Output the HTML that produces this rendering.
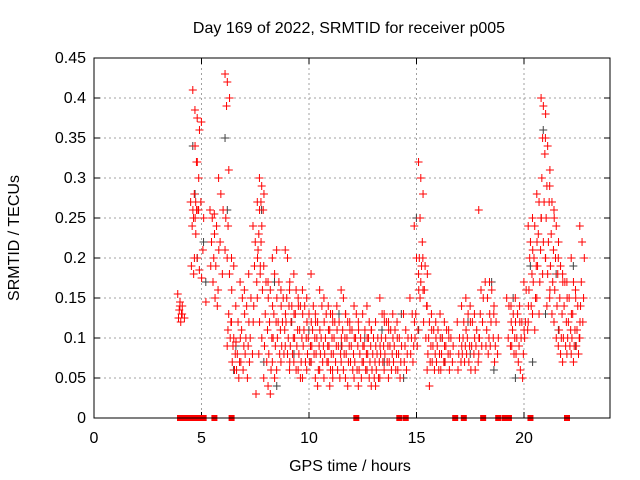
<!DOCTYPE html>
<html><head><meta charset="utf-8">
<style>
body{margin:0;background:#fff;}
svg{display:block;font-family:"Liberation Sans",sans-serif;}
</style></head>
<body>
<svg id="chart" width="640" height="480">
<text x="349" y="33" font-size="16" text-anchor="middle">Day 169 of 2022, SRMTID for receiver p005</text>
<text x="350" y="471" font-size="16" text-anchor="middle">GPS time / hours</text>
<text transform="translate(19,238) rotate(-90)" font-size="16" text-anchor="middle">SRMTID / TECUs</text>
<g id="grid"></g>
<g id="ticks"></g>
<g id="black"></g>
<g id="red"></g>
<rect x="94" y="58" width="516" height="360" fill="none" stroke="#000" stroke-width="1"/>
</svg>
<script>
const xTicks=[0,5,10,15,20];
const yTicks=[0,0.05,0.1,0.15,0.2,0.25,0.3,0.35,0.4,0.45];
const yTickLabels=["0","0.05","0.1","0.15","0.2","0.25","0.3","0.35","0.4","0.45"];
const redTimes=[4.0,4.1,4.6,4.7,4.8,4.9,5.1,5.5,5.7,5.9,6.2,6.3,6.5,6.7,6.9,7.1,7.3,7.5,7.7,7.8,8.0,8.2,8.4,8.6,8.8,9.0,9.2,9.4,9.6,9.8,10.0,10.2,10.4,10.6,10.8,11.0,11.2,11.4,11.6,11.8,12.0,12.2,12.4,12.6,12.8,13.0,13.2,13.4,13.6,13.8,14.0,14.2,14.5,14.8,15.0,15.2,15.4,15.6,15.8,16.0,16.2,16.4,16.6,17.0,17.2,17.4,17.6,17.8,18.0,18.3,18.5,18.7,19.3,19.5,19.7,19.9,20.1,20.3,20.5,20.7,20.9,21.1,21.3,21.5,21.7,21.9,22.1,22.3,22.5,22.7];
const redValues=[
[.155,.145,.14,.135,.13,.125,.12],[.14,.13,.125],[.27,.26,.25,.24,.2,.19,.18],[.41,.34,.32,.28,.26,.25,.23],[.385,.375,.36,.32,.3,.27,.26],[.2,.185,.175,.26,.27],[.37,.25,.145,.21],
[.26,.25,.23,.22,.2,.19,.17],[.255,.24,.21,.19,.16,.15,.14],[.3,.28,.26,.22,.18],[.43,.42,.4,.39,.31,.25,.24,.21],[.2,.18,.16,.13,.12,.11,.1,.09],
[.12,.1,.095,.09,.08,.07,.06,.2,.19],[.14,.12,.1,.08,.07,.06,.05],[.17,.15,.13,.11,.09,.07,.06],[.16,.14,.12,.1,.09,.08,.05],[.18,.15,.12,.1,.08,.07],
[.24,.22,.2,.19,.17,.14,.03],[.27,.26,.24,.23,.22,.21,.19,.15,.12,.1,.08],[.3,.29,.28,.27,.26,.18,.16],[.19,.17,.15,.13,.11,.09,.07,.05],[.17,.16,.14,.12,.1,.08,.06,.04,.03],
[.2,.18,.15,.13,.12,.1,.09,.07,.05],[.21,.17,.14,.12,.11,.1,.08,.06],[.16,.15,.13,.12,.11,.09,.08,.07],[.21,.2,.17,.15,.14,.12,.1,.09,.08,.07],[.16,.14,.13,.12,.1,.09,.08,.06],
[.18,.16,.14,.13,.11,.1,.09,.07,.06],[.15,.14,.13,.11,.1,.08,.07,.06,.05],[.16,.14,.12,.11,.1,.09,.07,.05],[.15,.13,.12,.1,.09,.08,.07,.06],[.18,.14,.12,.11,.1,.09,.08,.07],
[.13,.12,.11,.1,.09,.08,.06,.05,.04],[.16,.14,.12,.1,.09,.08,.07,.06],[.15,.13,.11,.1,.09,.08,.07,.05],[.14,.13,.12,.11,.1,.09,.08,.07,.06,.05,.04],[.13,.12,.11,.1,.09,.08,.07,.06],
[.14,.12,.1,.09,.08,.06,.05],[.16,.15,.13,.11,.1,.09,.08,.07,.06],[.13,.12,.11,.1,.09,.08,.07,.05,.04],[.12,.11,.1,.09,.08,.07,.06],[.14,.13,.11,.1,.09,.07,.06,.05],
[.12,.1,.09,.08,.07,.06,.05,.04],[.13,.11,.1,.09,.08,.07,.06],[.14,.12,.11,.1,.09,.08,.07,.06,.05],[.11,.1,.09,.08,.07,.06,.05,.04],[.12,.1,.09,.08,.07,.06,.05,.04],
[.15,.13,.12,.1,.09,.08,.07,.05],[.13,.12,.11,.1,.09,.08,.07,.06],[.12,.11,.1,.09,.08,.07,.06,.05],[.13,.11,.1,.09,.08,.07,.06],[.12,.1,.09,.08,.07,.06,.05],
[.13,.11,.1,.09,.08,.07,.06],[.15,.13,.12,.1,.09,.08,.07],[.24,.2,.16,.13,.11,.1,.09],[.32,.3,.28,.25,.22,.2,.19,.18,.17,.16,.15],[.2,.19,.18,.16,.14,.12,.1],
[.14,.12,.11,.1,.09,.08,.07,.06,.04],[.13,.11,.1,.09,.08,.07,.06],[.12,.11,.1,.09,.08,.07,.06],[.13,.1,.09,.08,.07,.06],[.12,.11,.1,.09,.08,.07],[.11,.1,.09,.08,.07,.06],
[.12,.1,.09,.08,.07,.06],[.14,.12,.11,.1,.09,.08,.07],[.15,.13,.12,.1,.09,.08,.07],[.14,.12,.1,.09,.08,.06],[.13,.11,.1,.09,.07,.06],[.26,.16,.15,.13,.12,.1,.09,.08],
[.17,.15,.13,.11,.1,.09,.08],[.17,.16,.14,.12,.1,.09],[.13,.12,.1,.09,.08,.07],[.15,.14,.12,.1,.09],[.14,.13,.12,.11,.1,.09,.08],[.15,.13,.12,.1,.09,.08,.07],
[.14,.12,.11,.1,.08,.06,.05],[.17,.16,.14,.12,.11,.1],[.24,.22,.21,.2,.18,.16,.14,.12],[.25,.24,.22,.2,.19,.17,.15,.13,.11],[.28,.27,.25,.23,.21,.19,.17,.15,.13],
[.4,.39,.38,.35,.33,.3,.27,.25,.22,.2,.18],[.35,.34,.31,.29,.27,.25,.22,.2,.18,.16,.14],[.29,.27,.25,.23,.21,.19,.17,.15,.13],[.26,.24,.22,.2,.18,.16,.14,.12,.1],
[.2,.19,.17,.15,.13,.11,.1,.09,.08],[.18,.17,.15,.14,.12,.1,.09,.07],[.17,.15,.13,.12,.11,.1,.09,.08],[.2,.17,.15,.13,.11,.1,.09,.08,.07],[.16,.14,.12,.11,.1,.09,.08],[.24,.22,.2,.17,.15,.14,.12,.1]];
const blackTimes=[4.7,5.2,6.2,6.6,7.9,8.5,9.3,10.1,11.5,12.7,13.5,14.4,15.1,16.3,17.5,18.6,19.6,20.4,21.0,21.6,22.4];
const blackValues=[[.34,.28,.2],[.22,.17],[.35,.26],[.06,.09],[.26,.07],[.17,.04],[.12,.08],[.11,.07],[.13,.09],[.1,.06],[.11,.07],[.13,.05],[.25,.11],[.1,.07],[.12,.08],[.17,.06],[.15,.05],[.19,.07],[.36,.13],[.18,.11],[.19,.09]];
const zeroTimes=[4.0,4.2,4.4,4.5,4.6,4.8,5.0,5.1,5.6,6.4,12.2,14.2,14.5,16.8,17.2,18.1,18.8,19.1,19.3,20.3,22.0];

const X0=94,X1=610,Y0=418,Y1=58,XMAX=24,YMAX=0.45;
const NS="http://www.w3.org/2000/svg";
function sx(t){return X0+(t/XMAX)*(X1-X0);}
function sy(v){return Y0-(v/YMAX)*(Y0-Y1);}
function mk(tag,attrs){const e=document.createElementNS(NS,tag);for(const k in attrs)e.setAttribute(k,attrs[k]);return e;}
const grid=document.getElementById('grid'),ticks=document.getElementById('ticks');
yTicks.forEach((v,i)=>{
  const y=sy(v);
  if(v>0&&v<YMAX){const g=mk('line',{x1:X0,x2:X1,y1:y,y2:y,stroke:'#a0a0a0','stroke-dasharray':'2,3'});
  
  
  grid.appendChild(g);}
  const tk=mk('path',{d:`M${X0},${y}h6M${X1},${y}h-6`,stroke:'#000'});
  
  
  ticks.appendChild(tk);
  const tx=mk('text',{x:X0-8,y:y+5,'font-size':16,'text-anchor':'end'});
  tx.textContent=yTickLabels[i];
  
  
  ticks.appendChild(tx);
});
xTicks.forEach(t=>{
  const x=sx(t);
  if(t>0){const g=mk('line',{x1:x,x2:x,y1:Y1,y2:Y0,stroke:'#a0a0a0','stroke-dasharray':'2,3'});
  
  
  grid.appendChild(g);}
  const tk=mk('path',{d:`M${x},${Y0}v-6M${x},${Y1}v6`,stroke:'#000'});
  
  
  ticks.appendChild(tk);
  const tx=mk('text',{x:x,y:Y0+25,'font-size':16,'text-anchor':'middle'});
  tx.textContent=String(t);
  
  
  ticks.appendChild(tx);
});
function plus(g,t,v,col){
  const x=sx(t),y=sy(v);
  const p=mk('path',{d:`M${x-4},${y}h8M${x},${y-4}v8`,stroke:col,'stroke-width':1});
  
  
  g.appendChild(p);
}
function drawClusters(g,times,vals,col){
  times.forEach((t,ci)=>{
    vals[ci].forEach((v,i)=>{
      const off=((i*3%7)-3)*0.035;
      plus(g,t+off,v,col);
    });
  });
}
drawClusters(document.getElementById('black'),blackTimes,blackValues,'#404040');
const red=document.getElementById('red');
drawClusters(red,redTimes,redValues,'#ff0000');
zeroTimes.forEach(t=>{
  const r=mk('rect',{x:sx(t)-3,y:Y0-3,width:6,height:6,fill:'#ff0000'});
  
  
  red.appendChild(r);
});
</script>
</body></html>
